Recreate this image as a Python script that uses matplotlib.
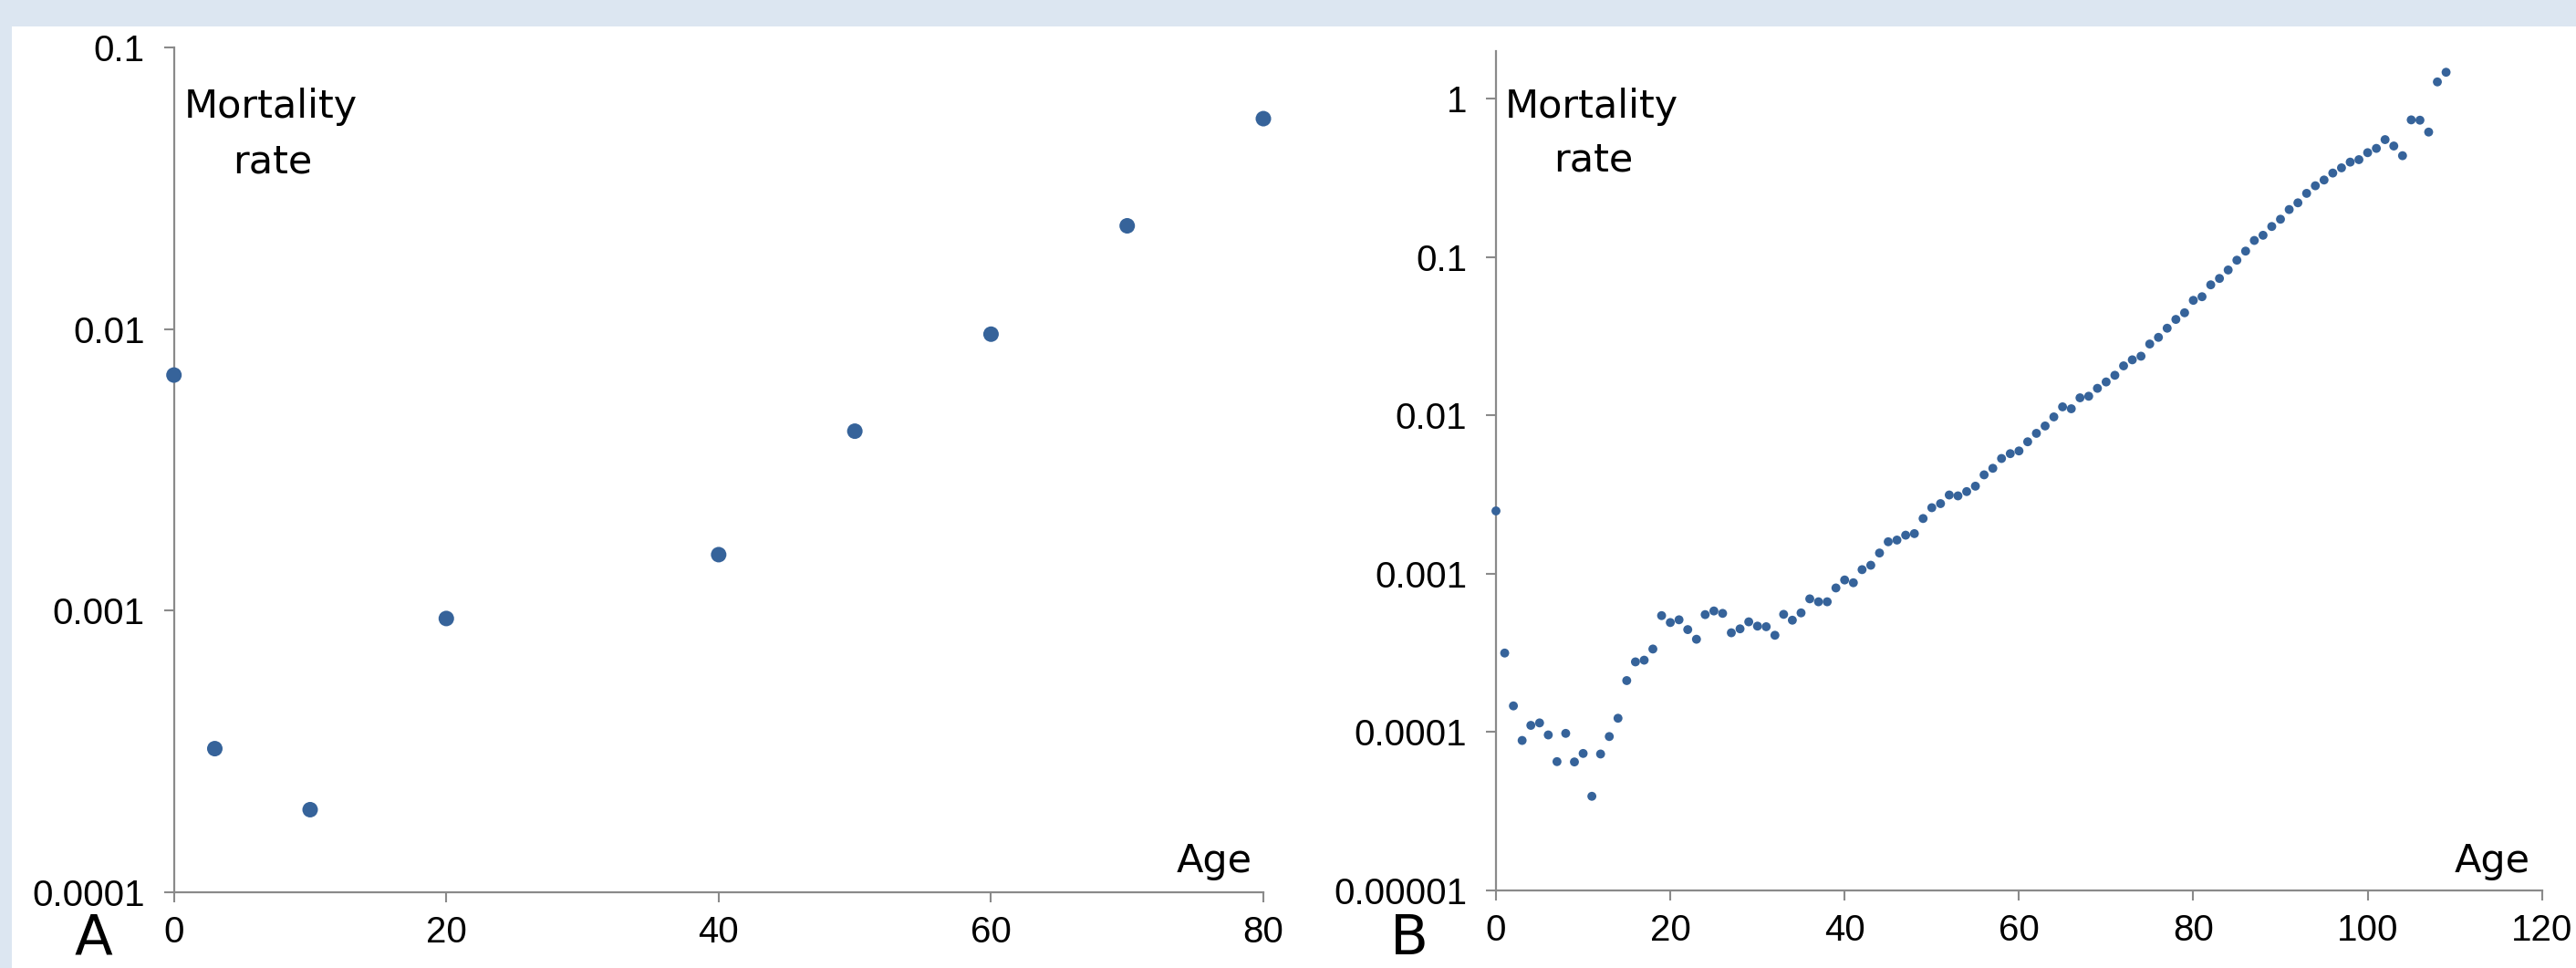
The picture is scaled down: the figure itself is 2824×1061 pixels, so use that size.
import numpy as np
import matplotlib
matplotlib.use("Agg")
import matplotlib.pyplot as plt
from matplotlib.patches import Rectangle

# panel A: mortality at selected ages
ages_a = [0, 3, 10, 20, 40, 50, 60, 70, 80]
rate_a = [0.00687, 0.000323, 0.000196, 0.000937, 0.00158, 0.00434, 0.0096, 0.0233, 0.056]

# panel B: mortality by single year of age, 0..109
ages_b = list(range(110))
rate_b = [
    0.00249, 0.000315, 0.000146, 0.0000883, 0.000110, 0.000114, 0.0000957, 0.0000649, 0.0000979, 0.0000646,
    0.0000731, 0.0000392, 0.0000725, 0.0000935, 0.000122, 0.000211, 0.000277, 0.000284, 0.000334, 0.000543,
    0.000491, 0.000511, 0.000443, 0.000385, 0.000551, 0.000581, 0.000561, 0.000423, 0.000448, 0.000496,
    0.000466, 0.000462, 0.000408, 0.000553, 0.000508, 0.000565, 0.000693, 0.000664, 0.000664, 0.000812,
    0.000912, 0.000876, 0.00106, 0.00113, 0.00135, 0.00159, 0.00163, 0.00175, 0.00179, 0.00223,
    0.00261, 0.00277, 0.00314, 0.00310, 0.00330, 0.00357, 0.00421, 0.00463, 0.00534, 0.00573,
    0.00596, 0.00681, 0.00770, 0.00857, 0.00978, 0.01132, 0.01101, 0.01291, 0.01321, 0.01482,
    0.01626, 0.01792, 0.02055, 0.02244, 0.02365, 0.02824, 0.03111, 0.03554, 0.04039, 0.04449,
    0.0533, 0.0562, 0.0668, 0.0733, 0.0829, 0.0956, 0.1091, 0.1274, 0.1374, 0.1561,
    0.1735, 0.1998, 0.2203, 0.2528, 0.2823, 0.3070, 0.3397, 0.3664, 0.3983, 0.4128,
    0.4570, 0.4862, 0.5524, 0.5034, 0.4372, 0.7363, 0.7329, 0.6166, 1.279, 1.472,
]

yticks_a = [0.0001, 0.001, 0.01, 0.1]
ylabels_a = ["0.0001", "0.001", "0.01", "0.1"]
yticks_b = [0.00001, 0.0001, 0.001, 0.01, 0.1, 1]
ylabels_b = ["0.00001", "0.0001", "0.001", "0.01", "0.1", "1"]

W, H = 2824, 1061
dot = "#36639a"
grey = "#8a8a8a"
tick_font = ["Liberation Sans", "DejaVu Sans"]

fig = plt.figure(figsize=(W / 100, H / 100), dpi=100, facecolor="#dce6f1")
fig.add_artist(Rectangle((13 / W, 0), 1, (H - 29) / H, transform=fig.transFigure,
                         facecolor="white", edgecolor="none", zorder=0))


def px(x, y):
    return x / W, 1 - y / H


def style(ax, xticks, yticks, ylabels):
    ax.set_facecolor("none")
    ax.set_yscale("log")
    for s in ["top", "right"]:
        ax.spines[s].set_visible(False)
    for s in ["left", "bottom"]:
        ax.spines[s].set_color(grey)
        ax.spines[s].set_linewidth(1.6)
    ax.set_xticks(xticks)
    ax.set_yticks(yticks)
    ax.set_yticklabels(ylabels)
    ax.minorticks_off()
    ax.tick_params(axis="both", direction="out", length=8, width=1.5, color=grey,
                   labelsize=29, labelcolor="black")
    ax.tick_params(axis="y", pad=15)
    ax.tick_params(axis="x", pad=10)
    for lab in ax.get_xticklabels() + ax.get_yticklabels():
        lab.set_family(tick_font)


# panel A
axA = fig.add_axes([190.7 / W, (H - 977.6) / H, (1385 - 190.7) / W, (977.6 - 52.4) / H])
axA.scatter(ages_a, rate_a, s=150, color=dot, edgecolors="none", zorder=3, clip_on=False)
axA.set_xlim(0, 80)
axA.set_ylim(0.0001, 0.1)
style(axA, [0, 20, 40, 60, 80], yticks_a, ylabels_a)

# panel B
axB = fig.add_axes([1640 / W, (H - 975.7) / H, (2786.7 - 1640) / W, (975.7 - 56.1) / H])
axB.scatter(ages_b, rate_b, s=50, color=dot, edgecolors="none", zorder=3, clip_on=False)
axB.set_xlim(0, 120)
axB.set_ylim(0.00001, 2)
style(axB, [0, 20, 40, 60, 80, 100, 120], yticks_b, ylabels_b)

lab_kw = dict(fontsize=31, family="DejaVu Sans", va="baseline")
fig.text(*px(297, 129), "Mortality", ha="center", **lab_kw)
fig.text(*px(299, 189), "rate", ha="center", **lab_kw)
fig.text(*px(1745, 129), "Mortality", ha="center", **lab_kw)
fig.text(*px(1747, 187), "rate", ha="center", **lab_kw)
fig.text(*px(1373, 956), "Age", ha="right", **lab_kw)
fig.text(*px(2774, 956), "Age", ha="right", **lab_kw)

fig.text(*px(82, 1059), "A", ha="left", va="bottom", fontsize=44, family="DejaVu Sans")
fig.text(*px(1524, 1059), "B", ha="left", va="bottom", fontsize=44, family="DejaVu Sans")

fig.savefig("out.png", dpi=100, facecolor=fig.get_facecolor())
